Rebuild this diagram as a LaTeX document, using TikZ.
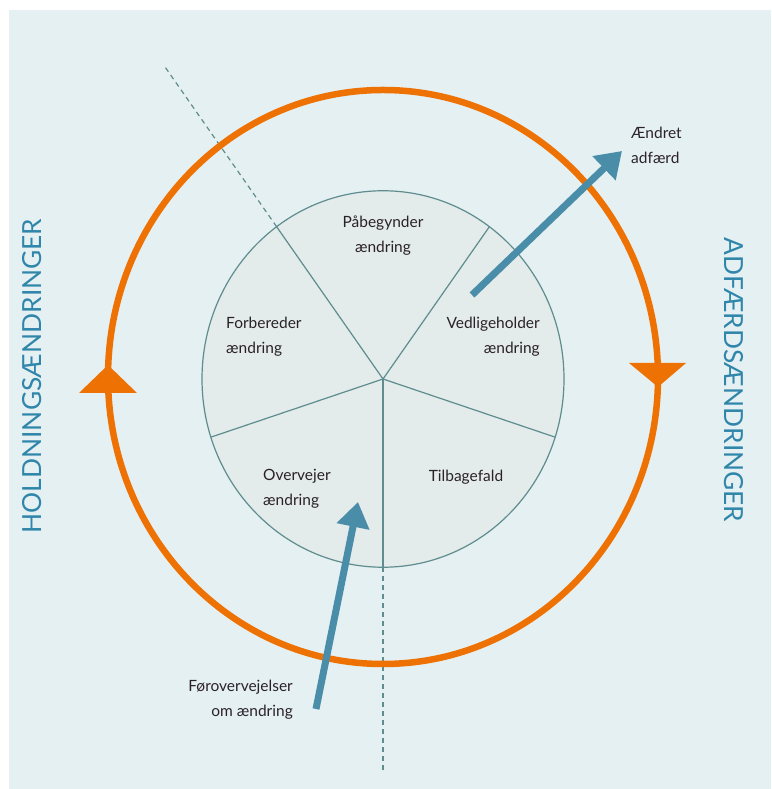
\documentclass[tikz,border=0pt]{standalone}
\usepackage{fontspec}
\setmainfont{Lato}
\usepackage{xcolor}
\usepackage{tikz}
\usetikzlibrary{arrows.meta}

\definecolor{bgblue}{HTML}{E5F0F2}
\definecolor{wheelfill}{HTML}{E3EBEB}
\definecolor{wheelline}{HTML}{5F8C8E}
\definecolor{cycleorange}{HTML}{EE7203}
\definecolor{arrowblue}{HTML}{4A8DA8}
\definecolor{capblue}{HTML}{2F86AA}
\definecolor{labeltext}{HTML}{2A2228}

\begin{document}
\begin{tikzpicture}[x=1pt,y=1pt,
  stage/.style={font=\fontsize{15.5}{25}\selectfont, text=labeltext, inner sep=0pt},
  sidecap/.style={font=\fontsize{26.3}{26}\selectfont, text=capblue, inner sep=0pt},
  bluearrow/.style={draw=arrowblue, line width=7pt, -{Triangle[width=32pt,length=25pt]}},
  divider/.style={draw=wheelline, line width=1.2pt},
  cutline/.style={draw=wheelline, line width=1.2pt, dash pattern=on 5pt off 4pt}]

\useasboundingbox (0,0) rectangle (771,789);

% Background
\fill[bgblue] (9,0) rectangle (771,779);

% Wheel of stages
\begin{scope}[shift={(383,410)}, yscale=1.04]
  \fill[wheelfill] (0,0) circle (181);
  \foreach \a in {54,126,198,270,342}
    \draw[divider] (0,0) -- (\a:181);
  \draw[divider] (0,0) circle (181);
  \draw[cutline] (126:181) -- (126:370);
  \draw[cutline] (270:181) -- (270:377);
\end{scope}

% Orange cycle
\draw[cycleorange, line width=6.5pt] (383,412) ellipse [x radius=275, y radius=287];
\fill[cycleorange] (79,396) -- (137,396) -- (108,424) -- cycle;
\fill[cycleorange] (629,426) -- (686,426) -- (658,402) -- cycle;

% Stages
\node[stage, align=center] (pabegynder) at (383,553) {Påbegynder\\ændring};
\node[stage, align=left, anchor=west] (forbereder) at (226,452) {Forbereder\\ændring};
\node[stage, align=right, anchor=east] (vedligeholder) at (540,452) {Vedligeholder\\ændring};
\node[stage, align=left, anchor=west] (overvejer) at (263,300) {Overvejer\\ændring};
\node[stage] (tilbagefald) at (466,312) {Tilbagefald};

% Outside labels
\node[stage, align=left, anchor=west] (aendret) at (631,644) {Ændret\\adfærd};
\node[stage, align=right, anchor=east] (forovervejelser) at (293,89) {Førovervejelser\\om ændring};
\node[sidecap, rotate=90] (holdning) at (32,413) {HOLDNINGSÆNDRINGER};
\node[sidecap, rotate=-90] (adfaerd) at (734,409) {ADFÆRDSÆNDRINGER};

% Blue arrows
\coordinate (inStart) at (316,80);
\coordinate (inTip) at (358,287);
\coordinate (outStart) at (472,494);
\coordinate (outTip) at (622,638);
\draw[bluearrow] (inStart) -- (inTip);
\draw[bluearrow] (outStart) -- (outTip);

\end{tikzpicture}
\end{document}
